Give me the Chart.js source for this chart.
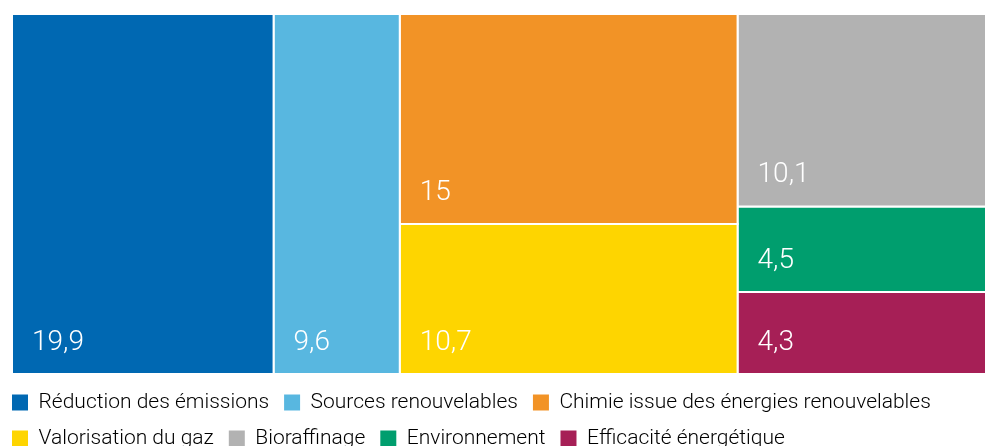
<!DOCTYPE html>
<html>
<head>
<meta charset="utf-8">
<script src="https://cdn.jsdelivr.net/npm/chart.js@4/dist/chart.umd.min.js"></script>
<style>
  html, body { margin: 0; padding: 0; background: #fff; overflow: hidden; }
  #wrap { position: relative; width: 989px; height: 459px; margin-left: -3px; }
</style>
</head>
<body>
<div id="wrap"><canvas id="treeChart"></canvas></div>
<script>
"use strict"
//domain names + values (percent), grouped into treemap columns
var categories = ["Réduction des émissions", "Sources renouvelables", "Chimie issue des énergies renouvelables",
  "Valorisation du gaz", "Bioraffinage", "Environnement", "Efficacité énergétique"];
var values = [19.9, 9.6, 15, 10.7, 10.1, 4.5, 4.3];
var columns = [[0], [1], [2, 3], [4, 5, 6]];//indexes into values, one list per column
var palette = ["#0068b2", "#58b7e0", "#f29326", "#fed500", "#b2b2b2", "#009e6e", "#a61f56"];

//slice and dice: column width from its sum, cell height from its share of the column
function buildRects() {
  var total = values.reduce(function(a, b) { return a + b; }, 0);
  var rects = [];
  var x0 = 0;
  columns.forEach(function(col) {
    var colSum = col.reduce(function(a, i) { return a + values[i]; }, 0);
    var x1 = x0 + colSum / total * 100;
    var yTop = 100;
    col.forEach(function(i) {
      var yBot = yTop - values[i] / colSum * 100;
      rects[i] = [{x: x0, y: yBot}, {x: x1, y: yBot}, {x: x1, y: yTop}, {x: x0, y: yTop}, {x: x0, y: yBot}];
      yTop = yBot;
    });
    x0 = x1;
  });
  return rects;
}
var rects = buildRects();

var datasets = categories.map(function(name, i) {
  return {
    label: name,
    value: values[i],
    data: rects[i],
    showLine: true,
    fill: "shape",
    backgroundColor: palette[i],
    borderColor: "#fff",
    borderWidth: 2,
    pointRadius: 0,
    pointHoverRadius: 0
  };
});

//value in the lower left corner of each cell
var cellLabels = {
  id: "cellLabels",
  afterDatasetsDraw: function(chart) {
    var ctx = chart.ctx;
    var xs = chart.scales.x, ys = chart.scales.y;
    ctx.save();
    ctx.fillStyle = "#fff";
    ctx.font = "300 28px Roboto";
    ctx.textBaseline = "middle";
    chart.data.datasets.forEach(function(ds, i) {
      if (!chart.isDatasetVisible(i)) return;
      var px = xs.getPixelForValue(ds.data[0].x);
      var py = ys.getPixelForValue(ds.data[0].y);
      ctx.fillText(String(ds.value).replace(".", ","), px + 20, py - 31);
    });
    ctx.restore();
  }
};

var treeC = document.getElementById("treeChart");
var treeChart = new Chart(treeC, {
  type: "scatter",
  data: { datasets: datasets },
  plugins: [cellLabels],
  options: {
    responsive: true,
    maintainAspectRatio: false,
    animation: false,
    layout: { padding: { top: 14, left: 0, right: 0, bottom: 0 } },
    font: { family: "Roboto" },
    scales: {
      x: {
        type: "linear", min: 0, max: 100,
        grid: { display: false }, border: { display: false }, ticks: { display: false },
        afterFit: function(s) { s.height = 3; }
      },
      y: {
        type: "linear", min: 0, max: 100,
        grid: { display: false }, border: { display: false }, ticks: { display: false },
        afterFit: function(s) { s.width = 15; }
      }
    },
    plugins: {
      tooltip: { enabled: false },
      legend: {
        position: "bottom",
        align: "start",
        labels: {
          boxWidth: 16,
          boxHeight: 16,
          padding: 15,
          color: "#333",
          font: { family: "Roboto", size: 21, weight: "300" },
          generateLabels: function(chart) {
            return chart.data.datasets.map(function(ds, i) {
              return {
                text: ds.label,
                fillStyle: ds.backgroundColor,
                strokeStyle: ds.backgroundColor,
                lineWidth: 0,
                hidden: !chart.isDatasetVisible(i),
                datasetIndex: i
              };
            });
          }
        }
      }
    }
  }
});
</script>
</body>
</html>
